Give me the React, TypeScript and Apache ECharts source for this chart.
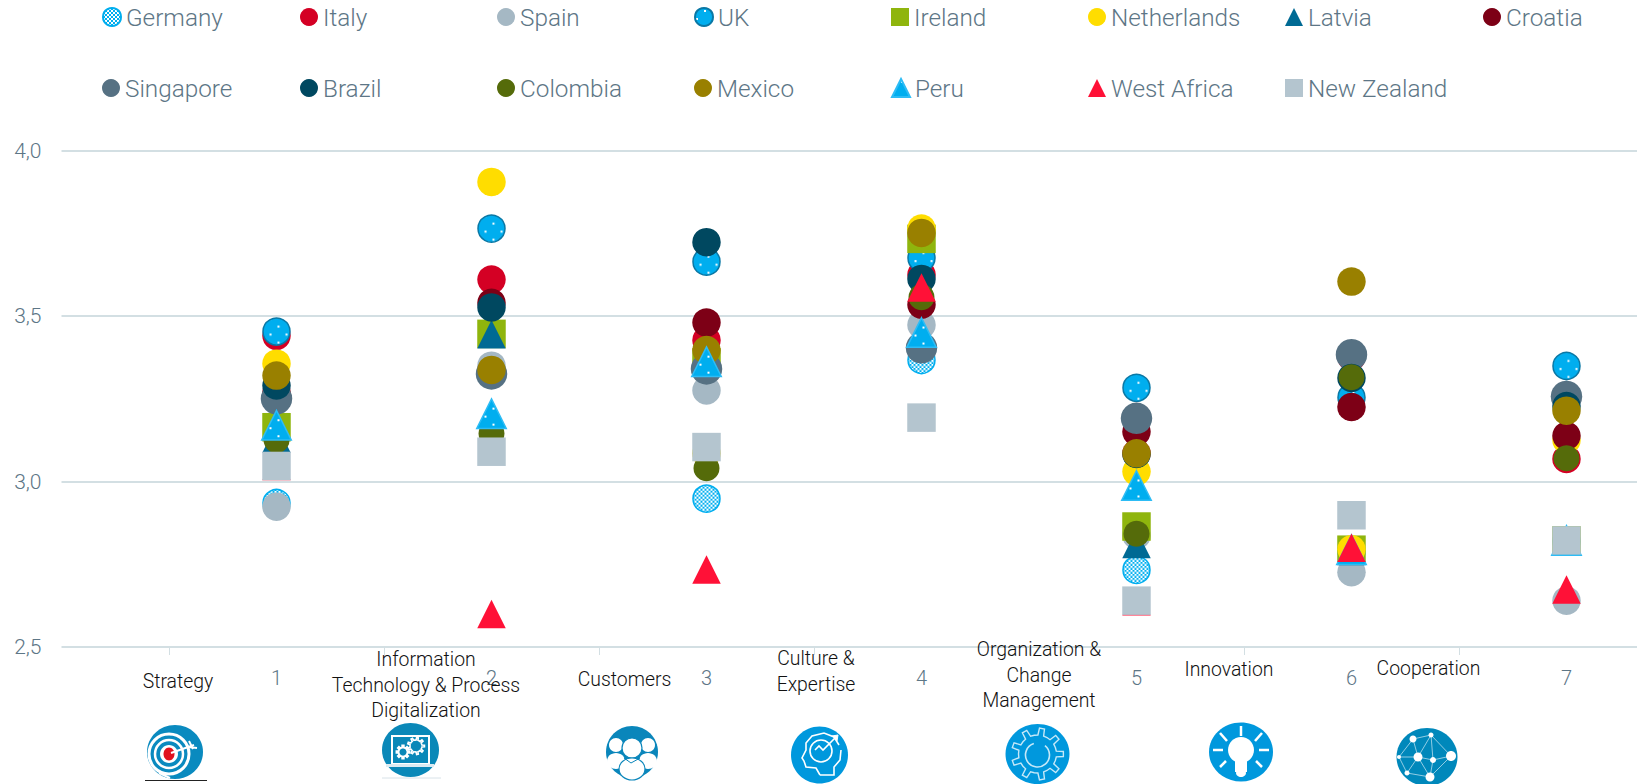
import React, { useEffect, useRef } from "react";
import * as echarts from "echarts";

const xPositions = [1, 2, 3, 4, 5, 6, 7];
const yTicks = [2.5, 3, 3.5, 4];
const germany = [2.935, 3.33, 2.948, 3.367, 2.733, 2.79, 2.82];
const italy = [3.44, 3.61, 3.427, 3.625, 3.085, 3.376, 3.068];
const spain = [2.924, 3.35, 3.275, 3.473, 2.837, 2.726, 2.64];
const uk = [3.453, 3.764, 3.664, 3.675, 3.283, 3.254, 3.349];
const ireland = [3.164, 3.446, 3.36, 3.733, 2.864, 2.794, 2.822];
const netherlands = [3.356, 3.905, 3.085, 3.764, 3.03, 2.795, 3.125];
const latvia = [3.13, 3.445, 3.36, 3.44, 2.811, 2.79, 2.82];
const croatia = [3.27, 3.54, 3.48, 3.534, 3.15, 3.225, 3.138];
const singapore = [3.25, 3.325, 3.34, 3.404, 3.191, 3.383, 3.257];
const brazil = [3.29, 3.526, 3.723, 3.612, 3.083, 3.313, 3.228];
const colombia = [3.125, 3.145, 3.04, 3.557, 2.842, 3.315, 3.07];
const mexico = [3.32, 3.337, 3.397, 3.751, 3.085, 3.604, 3.214];
const peru = [3.17, 3.205, 3.362, 3.45, 2.988, 2.794, 2.822];
const westAfrica = [3.047, 2.6, 2.734, 3.586, 2.638, 2.8, 2.674];
const newZealand = [3.047, 3.09, 3.104, 3.193, 2.64, 2.898, 2.822];

const FONT = "Roboto";
const BLUE = "#00aeef";

function checker() {
  const c = document.createElement("canvas");
  c.width = 4;
  c.height = 4;
  const g = c.getContext("2d")!;
  g.fillStyle = "#fff";
  g.fillRect(0, 0, 4, 4);
  g.fillStyle = BLUE;
  g.fillRect(0, 0, 2, 2);
  g.fillRect(2, 2, 2, 2);
  return c;
}
function dotted() {
  const c = document.createElement("canvas");
  c.width = 16;
  c.height = 16;
  const g = c.getContext("2d")!;
  g.fillStyle = BLUE;
  g.fillRect(0, 0, 16, 16);
  g.fillStyle = "#fff";
  g.fillRect(1, 10, 2, 2);
  g.fillRect(9, 2, 2, 2);
  return c;
}

const W = { stroke: "#fff", fill: "none", lineWidth: 1.6 };
const W2 = { fill: "#fff" };
const ell = (cx: number, cy: number, rx: number, ry: number, style: any) => ({
  type: "ellipse",
  shape: { cx, cy, rx, ry },
  style,
});
const ln = (x1: number, y1: number, x2: number, y2: number, style: any = W) => ({
  type: "line",
  shape: { x1, y1, x2, y2 },
  style,
});
const poly = (points: number[][], style: any = W) => ({ type: "polyline", shape: { points }, style });

function gearPoints(cx: number, cy: number, r1: number, r2: number, teeth: number) {
  const pts: number[][] = [];
  for (let i = 0; i < teeth; i++) {
    const a = (i / teeth) * Math.PI * 2;
    const d = (Math.PI * 2) / teeth;
    [
      [r1, a - d * 0.5],
      [r1, a - d * 0.22],
      [r2, a - d * 0.14],
      [r2, a + d * 0.14],
      [r1, a + d * 0.22],
    ].forEach(([r, t]) => pts.push([cx + r * Math.cos(t), cy + r * Math.sin(t)]));
  }
  pts.push(pts[0]);
  return pts;
}

function icons() {
  const out: any[] = [];
  // Strategy
  out.push(ell(175, 752, 28, 27, { fill: "#0a8abf" }));
  out.push(ell(169, 754, 20, 20, { ...W, lineWidth: 3 }));
  out.push(ell(169, 754, 14, 14, { ...W, lineWidth: 2.5 }));
  out.push(ell(169, 754, 9, 9, W2));
  out.push(ell(169, 754, 5.5, 6.5, { fill: "#e1131f" }));
  out.push(ln(171, 753, 194, 745, { stroke: "#fff", lineWidth: 2 }));
  out.push(ln(188, 747, 197, 748, { stroke: "#fff", lineWidth: 2 }));
  out.push(ln(189, 741, 193, 749, { stroke: "#fff", lineWidth: 2 }));
  out.push(ln(159, 773, 170, 778, { stroke: "#fff", lineWidth: 2 }));
  out.push(ln(145, 780.5, 207, 780.5, { stroke: "#222", lineWidth: 1 }));
  // IT
  out.push(ell(410.5, 750, 28.5, 27, { fill: "#0a88b8" }));
  out.push({ type: "rect", shape: { x: 392, y: 736, width: 37, height: 28 }, style: { ...W, lineWidth: 2 } });
  out.push(ln(386, 765.5, 434, 765.5, { stroke: "#dcebf2", lineWidth: 3 }));
  out.push(poly(gearPoints(403, 752, 4.5, 6.5, 8), { ...W, lineWidth: 2 }));
  out.push(poly(gearPoints(416, 746, 6, 8.5, 9), { ...W, lineWidth: 1.6 }));
  out.push(ln(382, 778, 441, 778, { stroke: "#d8e2e8", lineWidth: 1 }));
  // Customers
  out.push(ell(632, 752, 26, 26, { fill: "#0a86bb" }));
  [[616, 745], [648, 745]].forEach(([x, y]) => {
    out.push(ell(x, y, 7, 7, W2));
    out.push(ell(x, y + 16, 9, 8, W2));
  });
  out.push(ell(632, 748, 10, 10, { fill: "#fff", stroke: "#0a86bb", lineWidth: 1.2 }));
  out.push(ell(632, 769, 13, 11, { fill: "#fff", stroke: "#0a86bb", lineWidth: 1.2 }));
  out.push(poly([[624, 758], [631, 763], [640, 758]], { fill: "none", stroke: "#0a86bb", lineWidth: 1 }));
  // Culture
  out.push(ell(819.5, 755, 28.5, 28.5, { fill: "#0098dd" }));
  out.push(
    poly(
      [
        [820, 775], [816, 768], [806, 767], [804, 761], [802, 758], [806, 750], [806, 743],
        [812, 736], [824, 733], [834, 737], [839, 745],
      ],
      { ...W, lineWidth: 1.6 }
    )
  );
  out.push(poly([[820, 775], [834, 775], [834, 767], [840, 760], [841, 750]], { ...W, lineWidth: 1.6 }));
  out.push(ell(821, 751, 11, 11, { ...W, lineWidth: 1.6 }));
  out.push(poly([[815, 750], [819, 746], [823, 750], [836, 737]], { ...W, lineWidth: 1.6 }));
  out.push(poly([[832, 736], [838, 735], [837, 741]], { ...W, fill: "#fff", lineWidth: 1 }));
  // Organization
  out.push(ell(1037.5, 754, 32, 30, { fill: "#0098dd" }));
  out.push(poly(gearPoints(1037.5, 754, 19, 26, 9), { ...W, stroke: "#c5e8f8", lineWidth: 1.4 }));
  out.push({
    type: "arc",
    shape: { cx: 1037.5, cy: 755, r: 12, startAngle: -0.9, endAngle: 4.4 },
    style: { ...W, stroke: "#c5e8f8", lineWidth: 1.6 },
  });
  // Innovation
  out.push(ell(1241, 752, 32, 29.5, { fill: "#0098dd" }));
  out.push(ell(1241, 750, 13, 13, W2));
  out.push({ type: "rect", shape: { x: 1235, y: 760, width: 12, height: 12 }, style: W2 });
  out.push(ell(1241, 773, 5, 4, W2));
  [[1241, 726, 1241, 736], [1220, 733, 1227, 741], [1262, 733, 1255, 741], [1213, 750, 1223, 750],
   [1259, 750, 1269, 750], [1220, 767, 1226, 761], [1262, 767, 1256, 761]].forEach(([a, b, c, d]) =>
    out.push(ln(a, b, c, d, { stroke: "#fff", lineWidth: 2.5 }))
  );
  // Cooperation
  out.push(ell(1427, 757, 30.5, 29, { fill: "#0088bb" }));
  const nodes = [[1413, 739, 3.5], [1431, 735, 2.5], [1418, 757, 4.5], [1433, 760, 3], [1451, 756, 5],
    [1399, 757, 2], [1407, 773, 2.5], [1430, 777, 4.5]];
  [[0, 1], [0, 2], [1, 2], [1, 3], [2, 3], [3, 4], [1, 4], [0, 5], [5, 2], [2, 6], [5, 6], [6, 7], [3, 7], [2, 7], [4, 7]].forEach(([a, b]) =>
    out.push(ln(nodes[a][0], nodes[a][1], nodes[b][0], nodes[b][1], { stroke: "#cfeaf5", lineWidth: 0.7 }))
  );
  nodes.forEach(([x, y, r]) => out.push(ell(x, y, r, r, W2)));
  return out;
}

const captionRows: [string, number, number][] = [
  ["Strategy", 178, 681],
  ["Information", 426, 659],
  ["Technology & Process", 426, 685],
  ["Digitalization", 426, 710],
  ["Customers", 624.5, 679],
  ["Culture &", 816, 658],
  ["Expertise", 816, 684],
  ["Organization &", 1039, 649],
  ["Change", 1039, 675],
  ["Management", 1039, 700],
  ["Innovation", 1229, 669],
  ["Cooperation", 1428.5, 668],
];

export default function App() {
  const ref = useRef<HTMLDivElement>(null);
  useEffect(() => {
    const chart = echarts.init(ref.current!, undefined, { renderer: "svg" });
    // Symbols are unit paths scaled by size / 2, so the pattern is scaled back down to stay at pixel size.
    const scaled = (image: HTMLCanvasElement, size: number) => ({ image, repeat: "repeat", scaleX: 2 / size, scaleY: 2 / size });
    const plain = (image: HTMLCanvasElement) => ({ image, repeat: "repeat" });
    const chk = checker();
    const dot = dotted();
    const defs: any[] = [
      { name: "Germany", data: germany, symbol: "circle", size: 27, item: { color: scaled(chk, 27), borderColor: BLUE, borderWidth: 1.5 }, legendColor: plain(chk), lx: 102, row: 0 },
      { name: "Italy", data: italy, symbol: "circle", size: 28.5, item: { color: "#d40024" }, lx: 300, row: 0 },
      { name: "Spain", data: spain, symbol: "circle", size: 28.5, item: { color: "#a5b8c4" }, lx: 497, row: 0 },
      { name: "UK", data: uk, symbol: "circle", size: 27, item: { color: scaled(dot, 27), borderColor: "#0a78a5", borderWidth: 1.5 }, legendColor: plain(dot), lx: 694, row: 0 },
      { name: "Ireland", data: ireland, symbol: "rect", size: 28.5, item: { color: "#8fb50d" }, lx: 891, row: 0 },
      { name: "Netherlands", data: netherlands, symbol: "circle", size: 28.5, item: { color: "#ffdd00" }, lx: 1088, row: 0 },
      { name: "Latvia", data: latvia, symbol: "triangle", size: 28.5, item: { color: "#006a94" }, lx: 1285, row: 0 },
      { name: "Croatia", data: croatia, symbol: "circle", size: 28.5, item: { color: "#7d0016" }, lx: 1483, row: 0 },
      { name: "Singapore", data: singapore, symbol: "circle", size: 31.5, item: { color: "#567183" }, lx: 102, row: 1 },
      { name: "Brazil", data: brazil, symbol: "circle", size: 28.5, item: { color: "#004860" }, lx: 300, row: 1 },
      { name: "Colombia", data: colombia, symbol: "circle", size: 26, item: { color: "#556b0a" }, lx: 497, row: 1 },
      { name: "Mexico", data: mexico, symbol: "circle", size: 28.5, item: { color: "#998000" }, lx: 694, row: 1 },
      { name: "Peru", data: peru, symbol: "triangle", size: 29.5, item: { color: scaled(dot, 29.5), borderColor: "#2dbcf5", borderWidth: 1.5 }, legendColor: plain(dot), lx: 891, row: 1 },
      { name: "West Africa", data: westAfrica, symbol: "triangle", size: 28.5, item: { color: "#ff1137" }, lx: 1088, row: 1 },
      { name: "New Zealand", data: newZealand, symbol: "rect", size: 28.5, item: { color: "#b4c5cf" }, lx: 1285, row: 1 },
    ];
    chart.setOption({
      animation: false,
      backgroundColor: "#fff",
      legend: defs.map((d) => ({
        data: [d.legendColor ? { name: d.name, itemStyle: { color: d.legendColor } } : d.name],
        left: d.lx,
        top: d.row === 0 ? 3 : 74,
        padding: 0,
        itemWidth: 18,
        itemHeight: 18,
        itemGap: 0,
        selectedMode: false,
        textStyle: { fontFamily: FONT, fontWeight: 300, fontSize: 24.3, color: "#5d7686", padding: 0, lineHeight: 28 },
      })),
      grid: { left: 61.5, right: 0, top: 150.5, bottom: 137 },
      xAxis: {
        type: "value",
        min: 0,
        max: 7.328,
        splitLine: { show: false },
        axisLine: { show: false },
        axisTick: { show: true, length: 8, customValues: [0.5, 1.5, 2.5, 3.5, 4.5, 5.5, 6.5], lineStyle: { color: "#d3dfe3", width: 1 } },
        axisLabel: { customValues: xPositions, margin: 21, fontFamily: FONT, fontWeight: 300, fontSize: 20, color: "#5d7686" },
      },
      yAxis: {
        type: "value",
        min: yTicks[0],
        max: yTicks[yTicks.length - 1],
        interval: 0.5,
        axisLine: { show: false },
        axisTick: { show: false },
        splitLine: { show: true, lineStyle: { color: "#d3dfe3", width: 2 } },
        axisLabel: {
          margin: 20,
          fontFamily: FONT,
          fontWeight: 300,
          fontSize: 21,
          color: "#5d7686",
          formatter: (v: number) => v.toFixed(1).replace(".", ","),
        },
      },
      series: defs.map((d) => ({
        type: "scatter",
        name: d.name,
        symbol: d.symbol,
        symbolSize: d.size,
        itemStyle: { opacity: 1, ...d.item },
        clip: false,
        silent: true,
        data: d.data.map((v: number, i: number) => [xPositions[i], v]),
      })),
      graphic: [
        ...captionRows.map(([text, x, y]) => ({
          type: "text",
          x,
          y,
          z: 50,
          style: { text, fontFamily: FONT, fontWeight: 300, fontSize: 19.4, fill: "#111", textAlign: "center", textVerticalAlign: "middle" },
        })),
        ...icons().map((e) => ({ ...e, z: 40 })),
      ],
    });
    return () => chart.dispose();
  }, []);
  return <div ref={ref} style={{ position: "fixed", left: 0, top: 0, width: 1637, height: 784 }} />;
}
